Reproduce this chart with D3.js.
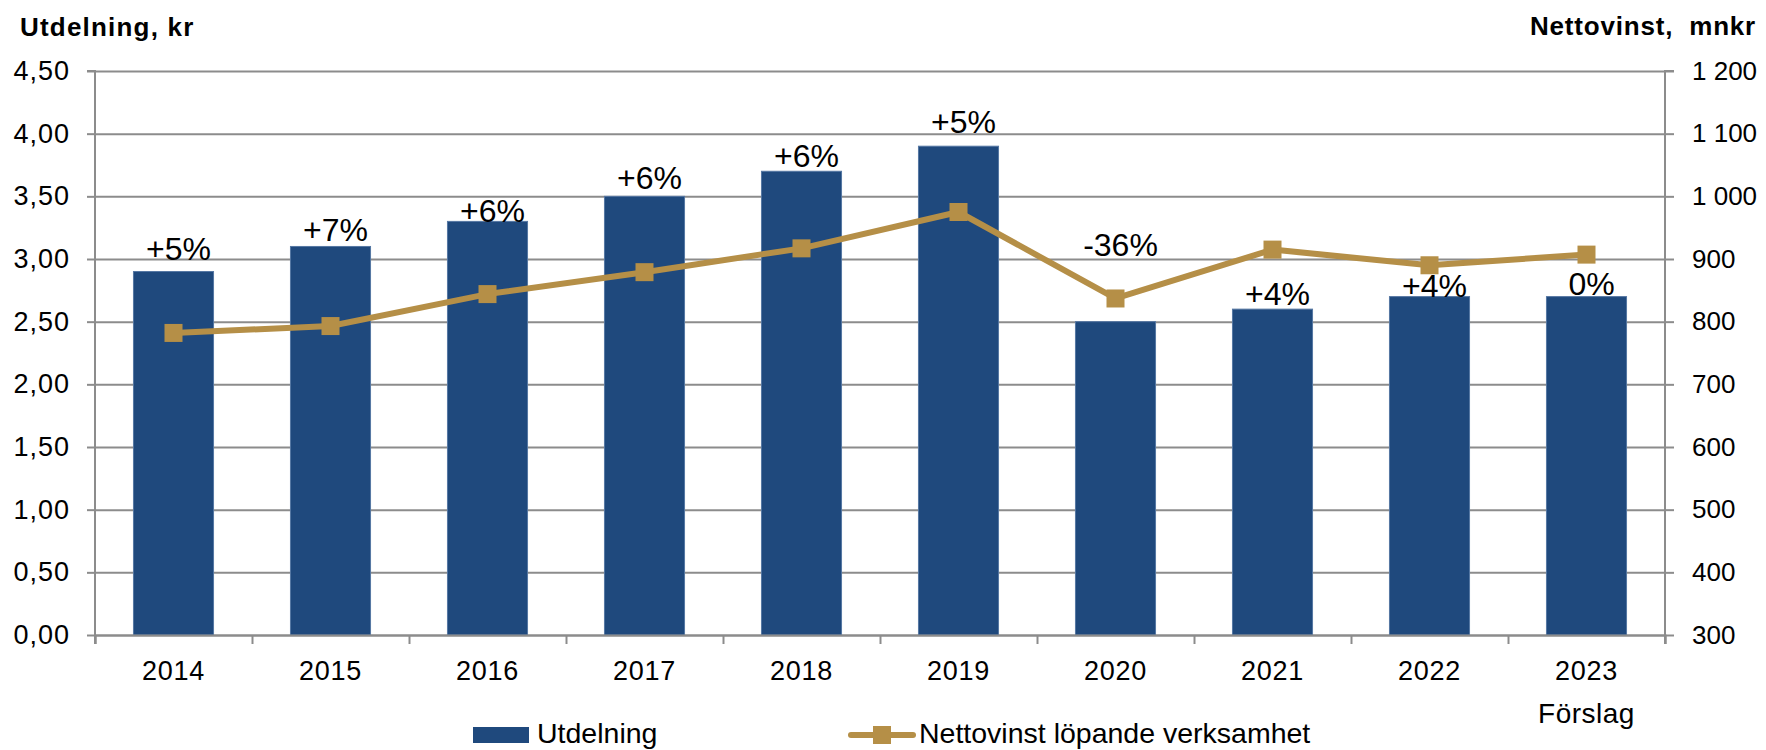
<!DOCTYPE html>
<html>
<head>
<meta charset="utf-8">
<script src="https://cdn.jsdelivr.net/npm/d3@7"></script>
<style>
  body { margin: 0; background: #fff; }
  svg { display: block; font-family: "Liberation Sans", Arial, sans-serif; }
</style>
</head>
<body>
<div id="chart"></div>
<script>
// data
const years = ['2014', '2015', '2016', '2017', '2018', '2019', '2020', '2021', '2022', '2023'];
const utdelning = [2.90, 3.10, 3.30, 3.50, 3.70, 3.90, 2.50, 2.60, 2.70, 2.70];
const nettovinst = [782, 793, 844, 879, 917, 975, 837, 915, 890, 907];
const changeLabels = ['+5%', '+7%', '+6%', '+6%', '+6%', '+5%', '-36%', '+4%', '+4%', '0%'];
const leftTicks = [0, 0.5, 1, 1.5, 2, 2.5, 3, 3.5, 4, 4.5];
const rightTicks = [300, 400, 500, 600, 700, 800, 900, 1000, 1100, 1200];

// label lift above bar top (px), hand placed like in the original
const labelLift = [12, 5, -1, 7, 4, 13, 66, 4, 0, 2];

const W = 1766, H = 750;
const margin = { top: 71, right: 101, bottom: 115, left: 95 };
const barColor = '#1f497d';
const lineColor = '#b58f47';
const gridColor = '#8c8c8c';
const font = '"Liberation Sans", Arial, sans-serif';

const locale = d3.formatLocale({ decimal: ',', thousands: '\u00a0', grouping: [3], currency: ['', ' kr'] });

const svg = d3.select('#chart').append('svg')
    .attr('width', W)
    .attr('height', H);

const x = d3.scaleBand()
    .domain(years)
    .range([margin.left, W - margin.right])
    .paddingInner(0.49)
    .paddingOuter(0.245);
const xEdge = d3.scaleLinear()
    .domain([0, years.length])
    .range([margin.left, W - margin.right]);
const yL = d3.scaleLinear()
    .domain([0, 4.5])
    .range([H - margin.bottom, margin.top]);
const yR = d3.scaleLinear()
    .domain([300, 1200])
    .range([H - margin.bottom, margin.top]);

const plotW = W - margin.left - margin.right;

// gridlines
svg.append('g')
    .attr('class', 'grid')
    .attr('transform', `translate(${margin.left},0)`)
    .call(d3.axisLeft(yL).tickValues(leftTicks).tickSize(-plotW).tickFormat(''))
    .call(g => g.select('.domain').remove())
    .call(g => g.selectAll('line').attr('stroke', gridColor).attr('stroke-width', 2));

// left axis
svg.append('g')
    .attr('transform', `translate(${margin.left},0)`)
    .call(d3.axisLeft(yL).tickValues(leftTicks).tickSize(8).tickPadding(17)
        .tickFormat(locale.format('.2f')))
    .call(g => g.select('.domain').attr('stroke', gridColor).attr('stroke-width', 2)
        .attr('d', `M-8,${yL(4.5)}H0V${H - margin.bottom + 9}`))
    .call(g => g.selectAll('line').attr('stroke', gridColor).attr('stroke-width', 2))
    .call(g => g.selectAll('text').attr('font-size', 27).attr('letter-spacing', 1).attr('fill', '#000')
        .attr('font-family', font));

// right axis
svg.append('g')
    .attr('transform', `translate(${W - margin.right},0)`)
    .call(d3.axisRight(yR).tickValues(rightTicks).tickSize(9).tickPadding(18)
        .tickFormat(locale.format(',d')))
    .call(g => g.select('.domain').attr('stroke', gridColor).attr('stroke-width', 2)
        .attr('d', `M9,${yR(1200)}H0V${H - margin.bottom + 9}`))
    .call(g => g.selectAll('line').attr('stroke', gridColor).attr('stroke-width', 2))
    .call(g => g.selectAll('text').attr('font-size', 26).attr('fill', '#000')
        .attr('font-family', font));

// bars
svg.append('g')
    .selectAll('rect')
    .data(years)
    .join('rect')
    .attr('x', d => x(d))
    .attr('y', (d, i) => yL(utdelning[i]))
    .attr('width', x.bandwidth())
    .attr('height', (d, i) => yL(0) - yL(utdelning[i]))
    .attr('fill', barColor)
    .attr('stroke', '#5577a3')
    .attr('stroke-width', 1);

// bottom axis: boundary ticks
svg.append('g')
    .attr('transform', `translate(0,${H - margin.bottom})`)
    .call(d3.axisBottom(xEdge).tickValues(d3.range(years.length + 1)).tickSize(9).tickFormat(''))
    .call(g => g.select('.domain').attr('stroke', gridColor).attr('stroke-width', 2))
    .call(g => g.selectAll('line').attr('stroke', gridColor).attr('stroke-width', 2));

// bottom axis: year labels
svg.append('g')
    .attr('transform', `translate(0,${H - margin.bottom})`)
    .call(d3.axisBottom(x).tickSize(0))
    .call(g => g.select('.domain').remove())
    .call(g => g.selectAll('text').attr('y', 45).attr('dy', null)
        .attr('font-size', 27).attr('letter-spacing', 0.8).attr('fill', '#000')
        .attr('font-family', font));

svg.append('text')
    .attr('x', x('2023') + x.bandwidth() / 2)
    .attr('y', 723)
    .attr('text-anchor', 'middle')
    .attr('font-size', 28)
    .attr('letter-spacing', 0.5)
    .text('Förslag');

// line
const line = d3.line()
    .x((d, i) => x(years[i]) + x.bandwidth() / 2)
    .y(d => yR(d));

svg.append('path')
    .datum(nettovinst)
    .attr('fill', 'none')
    .attr('stroke', lineColor)
    .attr('stroke-width', 6)
    .attr('stroke-linejoin', 'round')
    .attr('d', line);

svg.append('g')
    .selectAll('rect')
    .data(nettovinst)
    .join('rect')
    .attr('x', (d, i) => x(years[i]) + x.bandwidth() / 2 - 9)
    .attr('y', d => yR(d) - 9)
    .attr('width', 18)
    .attr('height', 18)
    .attr('fill', lineColor);

// change labels
svg.append('g')
    .selectAll('text')
    .data(changeLabels)
    .join('text')
    .attr('x', (d, i) => x(years[i]) + x.bandwidth() / 2 + 5)
    .attr('y', (d, i) => yL(utdelning[i]) - labelLift[i])
    .attr('text-anchor', 'middle')
    .attr('font-size', 32)
    .attr('fill', '#000')
    .text(d => d);

// axis titles
svg.append('text')
    .attr('x', 20)
    .attr('y', 36)
    .attr('font-size', 26)
    .attr('font-weight', 'bold')
    .attr('letter-spacing', 1.2)
    .text('Utdelning, kr');

svg.append('text')
    .attr('x', 1756)
    .attr('y', 35)
    .attr('text-anchor', 'end')
    .attr('font-size', 26)
    .attr('font-weight', 'bold')
    .attr('letter-spacing', 0.8)
    .attr('xml:space', 'preserve')
    .text('Nettovinst,  mnkr');

// legend
const legend = svg.append('g');
legend.append('rect')
    .attr('x', 473).attr('y', 727)
    .attr('width', 56).attr('height', 16)
    .attr('fill', barColor);
legend.append('text')
    .attr('x', 537).attr('y', 743)
    .attr('font-size', 28.5)
    .text('Utdelning');

legend.append('line')
    .attr('x1', 851).attr('x2', 913)
    .attr('y1', 735).attr('y2', 735)
    .attr('stroke', lineColor)
    .attr('stroke-width', 6)
    .attr('stroke-linecap', 'round');
legend.append('rect')
    .attr('x', 873).attr('y', 726)
    .attr('width', 18).attr('height', 18)
    .attr('fill', lineColor);
legend.append('text')
    .attr('x', 919).attr('y', 743)
    .attr('font-size', 28.5)
    .text('Nettovinst löpande verksamhet');
</script>
</body>
</html>
